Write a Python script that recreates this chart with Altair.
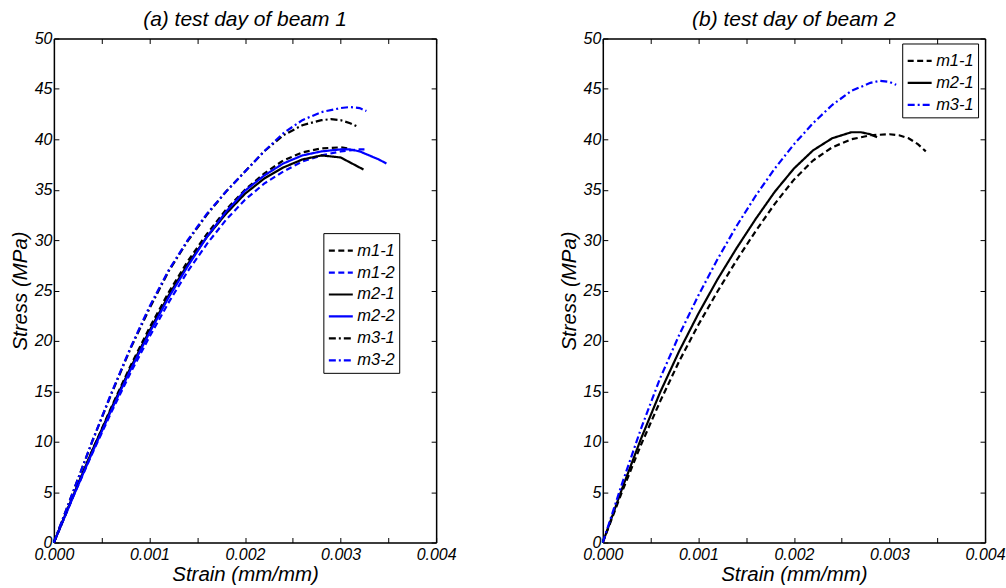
import altair as alt
import pandas as pd

# ---------------- data ----------------
x_ticks = [0.000, 0.001, 0.002, 0.003, 0.004]
y_ticks = [0, 5, 10, 15, 20, 25, 30, 35, 40, 45, 50]

# Panel (a): test day of beam 1
a_names = ["m1-1", "m1-2", "m2-1", "m2-2", "m3-1", "m3-2"]
a_colors = ["#000000", "#0000FF", "#000000", "#0000FF", "#000000", "#0000FF"]

a_m1_1_strain = [0, 0.0002, 0.0004, 0.0006, 0.0008, 0.0010, 0.0012, 0.0014, 0.0016, 0.0018, 0.0020, 0.0022, 0.0024, 0.0026, 0.0028, 0.0030, 0.00308]
a_m1_1_stress = [0, 4.6, 9.1, 13.4, 17.5, 21.3, 24.8, 27.9, 30.6, 33.0, 35.0, 36.6, 37.9, 38.7, 39.1, 39.2, 39.1]
a_m1_2_strain = [0, 0.0002, 0.0004, 0.0006, 0.0008, 0.0010, 0.0012, 0.0014, 0.0016, 0.0018, 0.0020, 0.0022, 0.0024, 0.0026, 0.0028, 0.0030, 0.0032, 0.00325]
a_m1_2_stress = [0, 4.5, 8.8, 12.9, 16.8, 20.4, 23.8, 26.9, 29.6, 32.0, 34.0, 35.6, 36.8, 37.8, 38.4, 38.8, 39.0, 39.0]
a_m2_1_strain = [0, 0.0002, 0.0004, 0.0006, 0.0008, 0.0010, 0.0012, 0.0014, 0.0016, 0.0018, 0.0020, 0.0022, 0.0024, 0.0026, 0.0028, 0.0030, 0.0031, 0.00324]
a_m2_1_stress = [0, 4.6, 9.1, 13.3, 17.3, 21.0, 24.5, 27.6, 30.3, 32.6, 34.6, 36.1, 37.2, 38.0, 38.4, 38.2, 37.7, 37.0]
a_m2_2_strain = [0, 0.0002, 0.0004, 0.0006, 0.0008, 0.0010, 0.0012, 0.0014, 0.0016, 0.0018, 0.0020, 0.0022, 0.0024, 0.0026, 0.0028, 0.0030, 0.0031, 0.0032, 0.0034, 0.00348]
a_m2_2_stress = [0, 4.5, 8.9, 13.1, 17.1, 20.8, 24.3, 27.4, 30.3, 32.8, 34.9, 36.4, 37.6, 38.4, 38.8, 39.0, 39.0, 38.8, 38.0, 37.6]
a_m3_1_strain = [0, 0.0002, 0.0004, 0.0006, 0.0008, 0.0010, 0.0012, 0.0014, 0.0016, 0.0018, 0.0020, 0.0022, 0.0024, 0.0026, 0.0028, 0.0029, 0.0030, 0.0031, 0.00319]
a_m3_1_stress = [0, 5.0, 10.0, 14.7, 19.2, 23.2, 26.9, 29.9, 32.5, 34.8, 36.8, 38.8, 40.4, 41.4, 41.9, 42.0, 41.9, 41.6, 41.2]
a_m3_2_strain = [0, 0.0002, 0.0004, 0.0006, 0.0008, 0.0010, 0.0012, 0.0014, 0.0016, 0.0018, 0.0020, 0.0022, 0.0024, 0.0026, 0.0028, 0.0030, 0.0031, 0.0032, 0.00327]
a_m3_2_stress = [0, 5.0, 10.0, 14.8, 19.3, 23.4, 27.0, 30.0, 32.6, 34.8, 36.8, 38.8, 40.6, 41.9, 42.7, 43.1, 43.2, 43.1, 42.8]

# Panel (b): test day of beam 2
b_names = ["m1-1", "m2-1", "m3-1"]
b_colors = ["#000000", "#000000", "#0000FF"]

b_m1_1_strain = [0, 0.0002, 0.0004, 0.0006, 0.0008, 0.0010, 0.0012, 0.0014, 0.0016, 0.0018, 0.0020, 0.0022, 0.0024, 0.0026, 0.0028, 0.0030, 0.0031, 0.0032, 0.0033, 0.00338]
b_m1_1_stress = [0, 5.0, 9.7, 14.0, 18.0, 21.6, 24.9, 28.0, 30.9, 33.6, 36.0, 37.9, 39.2, 40.0, 40.4, 40.5, 40.4, 40.1, 39.5, 38.8]
b_m2_1_strain = [0, 0.0002, 0.0004, 0.0006, 0.0008, 0.0010, 0.0012, 0.0014, 0.0016, 0.0018, 0.0020, 0.0022, 0.0024, 0.0026, 0.0027, 0.0028, 0.00287]
b_m2_1_stress = [0, 5.3, 10.3, 14.9, 19.0, 22.7, 26.1, 29.2, 32.1, 34.8, 37.1, 38.9, 40.1, 40.7, 40.7, 40.5, 40.2]
b_m3_1_strain = [0, 0.0002, 0.0004, 0.0006, 0.0008, 0.0010, 0.0012, 0.0014, 0.0016, 0.0018, 0.0020, 0.0022, 0.0024, 0.0026, 0.0028, 0.0029, 0.0030, 0.00307]
b_m3_1_stress = [0, 5.8, 11.3, 16.3, 20.6, 24.5, 28.1, 31.4, 34.4, 37.1, 39.5, 41.6, 43.4, 44.8, 45.6, 45.8, 45.7, 45.4]

DASHED = [6, 3.5]
SOLID = [1, 0]
DASHDOT = [7, 3, 2, 3]
a_dashes = [DASHED, DASHED, SOLID, SOLID, DASHDOT, DASHDOT]
b_dashes = [DASHED, SOLID, DASHDOT]

# ---------------- build tables ----------------
def frame(series):
    rows = []
    for name, xs, ys in series:
        for i, (x, y) in enumerate(zip(xs, ys)):
            rows.append({"series": name, "strain": x, "stress": y, "idx": i})
    return pd.DataFrame(rows)

df_a = frame([
    ("m1-1", a_m1_1_strain, a_m1_1_stress),
    ("m1-2", a_m1_2_strain, a_m1_2_stress),
    ("m2-1", a_m2_1_strain, a_m2_1_stress),
    ("m2-2", a_m2_2_strain, a_m2_2_stress),
    ("m3-1", a_m3_1_strain, a_m3_1_stress),
    ("m3-2", a_m3_2_strain, a_m3_2_stress),
])
df_b = frame([
    ("m1-1", b_m1_1_strain, b_m1_1_stress),
    ("m2-1", b_m2_1_strain, b_m2_1_stress),
    ("m3-1", b_m3_1_strain, b_m3_1_stress),
])

FONT = "Liberation Sans"
W, H = 383, 505


def tick_axis(orient, offset):
    return alt.Axis(orient=orient, offset=offset, labels=False,
                    domain=True, domainColor="black", domainWidth=1.5,
                    ticks=True, tickSize=5, tickWidth=1, tickColor="black",
                    grid=False, title=None)


def panel(df, names, colors, dashes, title, lx, ly):
    xs = alt.Scale(domain=[0, 0.004], nice=False, zero=False)
    ys = alt.Scale(domain=[0, 50], nice=False, zero=False)
    legend = alt.Legend(orient="none", legendX=lx, legendY=ly, title=None,
                        symbolType="stroke", symbolSize=576, symbolStrokeWidth=2.2,
                        labelFont=FONT, labelFontSize=16.5, labelFontStyle="italic",
                        labelColor="black", labelOffset=3, strokeColor="black",
                        fillColor="white", padding=4, rowPadding=-1)
    base = alt.Chart(df)
    lines = base.mark_line(strokeWidth=2.2).encode(
        x=alt.X("strain:Q", scale=xs,
                axis=alt.Axis(values=x_ticks, format=".3f", title="Strain (mm/mm)",
                              ticks=False, domain=False, grid=False, labelFlush=False,
                              labelFont=FONT, labelFontSize=16, labelFontStyle="italic",
                              labelColor="black", labelPadding=4,
                              titleFont=FONT, titleFontSize=20.5, titleFontStyle="italic",
                              titleFontWeight="normal", titleColor="black", titlePadding=2)),
        y=alt.Y("stress:Q", scale=ys,
                axis=alt.Axis(values=y_ticks, title="Stress (MPa)",
                              ticks=False, domain=False, grid=False, labelFlush=False,
                              labelFont=FONT, labelFontSize=16, labelFontStyle="italic",
                              labelColor="black", labelPadding=2,
                              titleFont=FONT, titleFontSize=20.5, titleFontStyle="italic",
                              titleFontWeight="normal", titleColor="black", titlePadding=4)),
        color=alt.Color("series:N", scale=alt.Scale(domain=names, range=colors), legend=legend),
        strokeDash=alt.StrokeDash("series:N", scale=alt.Scale(domain=names, range=dashes), legend=legend),
        order=alt.Order("idx:Q"),
    )
    ticks_b = base.mark_point(opacity=0).encode(
        x=alt.X("strain:Q", scale=xs, axis=tick_axis("top", -H)),
        y=alt.Y("stress:Q", scale=ys, axis=tick_axis("right", -W)),
    )
    ticks_c = base.mark_point(opacity=0).encode(
        x=alt.X("strain:Q", scale=xs, axis=tick_axis("bottom", -H)),
        y=alt.Y("stress:Q", scale=ys, axis=tick_axis("left", -W)),
    )
    return alt.layer(lines, ticks_b, ticks_c).resolve_axis(
        x="independent", y="independent"
    ).properties(
        width=W, height=H,
        title=alt.TitleParams(title, font=FONT, fontSize=21, fontStyle="italic",
                              fontWeight="normal", color="black", anchor="middle", offset=1),
    )


left = panel(df_a, a_names, a_colors, a_dashes, "(a) test day of beam 1", 270, 195)
right = panel(df_b, b_names, b_colors, b_dashes, "(b) test day of beam 2", 300, 5)

chart = alt.hconcat(left, right, spacing=167, bounds="flush").resolve_scale(
    color="independent", strokeDash="independent"
).resolve_legend(color="independent", strokeDash="independent").properties(
    padding={"left": 9, "top": 7, "right": 0, "bottom": 0},
).configure_view(strokeWidth=0).configure(background="white")

chart.save("out.html", embed_options={"renderer": "svg", "actions": False})
